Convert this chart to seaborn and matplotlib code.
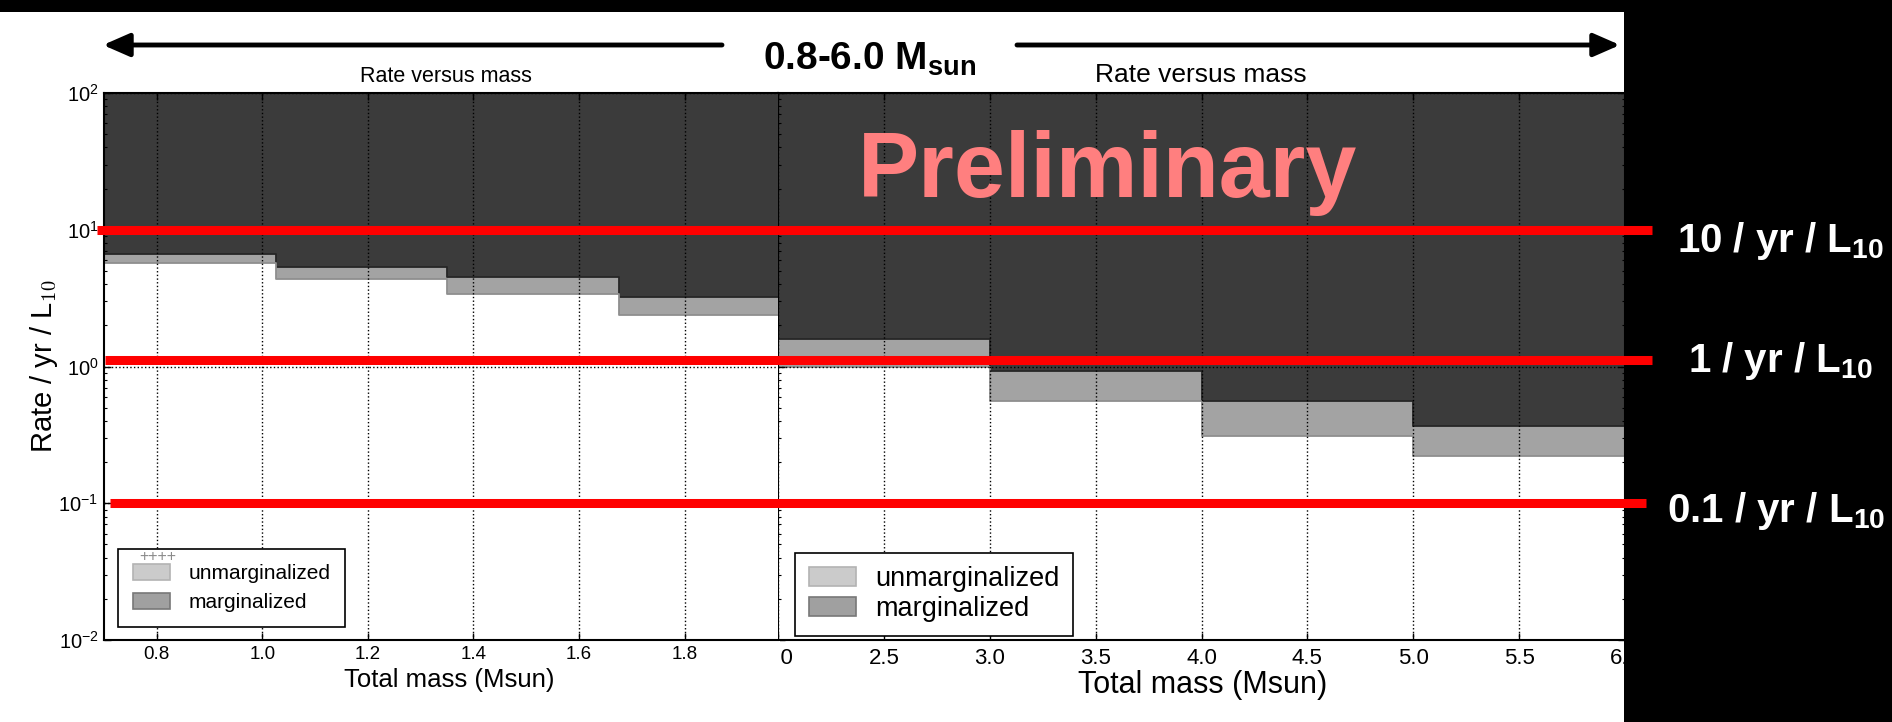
import matplotlib
matplotlib.use("Agg")
import matplotlib.pyplot as plt
import seaborn as sns
from matplotlib.patches import Patch, Rectangle, FancyArrowPatch
from matplotlib.lines import Line2D
from matplotlib.transforms import blended_transform_factory
from matplotlib.ticker import FixedLocator, FormatStrFormatter, LogLocator

# ---------------- data ----------------
left_edges = [0.7, 1.025, 1.35, 1.675, 2.0]
left_marginalized = [6.6, 5.3, 4.5, 3.2]
left_unmarginalized = [5.7, 4.4, 3.4, 2.4]

right_edges = [2.0, 3.0, 4.0, 5.0, 6.0]
right_marginalized = [1.6, 0.92, 0.56, 0.37]
right_unmarginalized = [0.99, 0.56, 0.31, 0.22]

left_xticks = [0.8, 1.0, 1.2, 1.4, 1.6, 1.8]
right_xticks = [2.0, 2.5, 3.0, 3.5, 4.0, 4.5, 5.0, 5.5, 6.0]

ref_levels = [10, 1.12, 0.1]
ref_labels = ["10 / yr / L$_{\\mathbf{10}}$", "1 / yr / L$_{\\mathbf{10}}$",
              "0.1 / yr / L$_{\\mathbf{10}}$"]
legend_labels = ["unmarginalized", "marginalized"]

# ---------------- style ----------------
sns.set_theme(style="ticks")
plt.rcParams.update({
    "font.family": ["Liberation Sans", "DejaVu Sans"],
    "mathtext.fontset": "custom",
    "mathtext.rm": "Liberation Sans",
    "mathtext.it": "Liberation Sans:italic",
    "mathtext.bf": "Liberation Sans:bold",
    "mathtext.sf": "Liberation Sans",
    "axes.edgecolor": "black",
    "xtick.color": "black",
    "ytick.color": "black",
    "text.color": "black",
    "axes.labelcolor": "black",
})

W, H = 1892, 722
def fx(px): return px / W
def fy(py): return 1 - py / H

DARK = "#3b3b3b"
BAND = "#a3a3a3"

fig = plt.figure(figsize=(W / 100, H / 100), dpi=100)
fig.patch.set_facecolor("white")

axR = fig.add_axes([fx(778), fy(640), (1625 - 778) / W, 547 / H], zorder=1)
axL = fig.add_axes([fx(104), fy(640), (777.5 - 104) / W, 547 / H], zorder=3)


def draw_panel(ax, edges, marg, unmarg):
    centers = [(a + b) / 2 for a, b in zip(edges[:-1], edges[1:])]
    ax.set_facecolor(DARK)
    sns.histplot(x=centers, weights=marg, bins=edges, element="step", fill=True,
                 color=BAND, alpha=1, edgecolor="#262626", linewidth=1.3, ax=ax)
    sns.histplot(x=centers, weights=unmarg, bins=edges, element="step", fill=True,
                 color="white", alpha=1, edgecolor="#8f8f8f", linewidth=1.3, ax=ax)
    ax.set_yscale("log")
    ax.set_ylim(1e-2, 1e2)
    ax.set_axisbelow(False)
    ax.grid(True, which="major", color="black", linestyle=":", linewidth=1.0)
    ax.yaxis.set_major_locator(LogLocator(base=10, numticks=10))
    ax.yaxis.set_minor_locator(LogLocator(base=10, subs=range(2, 10), numticks=20))
    for s in ax.spines.values():
        s.set_linewidth(1.5)
        s.set_color("black")
    ax.tick_params(which="major", direction="in", length=5, width=1)
    ax.tick_params(which="minor", direction="in", length=2.5, width=0.8)


draw_panel(axR, right_edges, right_marginalized, right_unmarginalized)
draw_panel(axL, left_edges, left_marginalized, left_unmarginalized)

# left panel axes
axL.set_xlim(0.7, 1.976)
axL.xaxis.set_major_locator(FixedLocator(left_xticks))
axL.xaxis.set_major_formatter(FormatStrFormatter("%.1f"))
axL.spines["right"].set_visible(False)
axL.tick_params(which="both", top=True, right=False, left=True, bottom=True)
axL.tick_params(axis="x", labelsize=13.5, pad=4)
axL.tick_params(axis="y", labelsize=14.5, pad=4)
axL.set_xlabel("Total mass (Msun)", fontsize=18.5)
axL.xaxis.set_label_coords((449.5 - 104) / 673.5, (640 - 680) / 547)
axL.xaxis.label.set_va("center")
axL.set_ylabel("Rate / yr / L$_{10}$", fontsize=21, math_fontfamily="cm")
axL.yaxis.set_label_coords((44 - 104) / 673.5, 0.5)
axL.yaxis.label.set_va("center")
axL.set_title("Rate versus mass", fontsize=15.5, x=(446 - 104) / 673.5,
              y=(640 - 77) / 547, va="center", pad=0)

# right panel axes
axR.set_xlim(2.0, 6.0)
axR.xaxis.set_major_locator(FixedLocator(right_xticks))
axR.xaxis.set_major_formatter(FormatStrFormatter("%.1f"))
axR.tick_params(which="both", top=True, right=True, left=True, bottom=True,
                labelleft=False)
axR.tick_params(axis="x", labelsize=16, pad=6)
axR.set_ylabel("")
axR.set_xlabel("Total mass (Msun)", fontsize=22)
axR.xaxis.set_label_coords((1203 - 778) / 847, (640 - 685) / 547)
axR.xaxis.label.set_va("center")
axR.set_title("Rate versus mass", fontsize=19, x=(1201 - 778) / 847,
              y=(640 - 75) / 547, va="center", pad=0)

# legends
def make_handles():
    return [Patch(facecolor="#cbcbcb", edgecolor="#b3b3b3", linewidth=1.2),
            Patch(facecolor="#a0a0a0", edgecolor="#787878", linewidth=1.2)]

legL = axL.legend(make_handles(), legend_labels, loc="lower left",
                  bbox_to_anchor=((118 - 104) / 673.5, (640 - 627) / 547),
                  borderaxespad=0, fancybox=False, framealpha=1, edgecolor="black",
                  fontsize=15, handlelength=1.8, handleheight=0.8,
                  labelspacing=0.5, borderpad=0.7, handletextpad=0.9)
legL.get_frame().set_linewidth(1.2)
legR = axR.legend(make_handles(), legend_labels, loc="lower left",
                  bbox_to_anchor=((795 - 778) / 847, (640 - 636) / 547),
                  borderaxespad=0, fancybox=False, framealpha=1, edgecolor="black",
                  fontsize=19.5, handlelength=1.75, handleheight=0.7,
                  labelspacing=0.15, borderpad=0.5, handletextpad=0.7)
legR.get_frame().set_linewidth(1.2)
fig.text(fx(139), fy(557), "++++", color="#8a8a8a", fontsize=11.5, va="center",
         zorder=6)

# cover pieces (composite slide)
fig.add_artist(Rectangle((0, 0), fx(780), (H - 641) / H, transform=fig.transFigure,
                         facecolor="white", edgecolor="none", zorder=2))
fig.add_artist(Rectangle((fx(1624), 0), (W - 1624) / W, 1, transform=fig.transFigure,
                         facecolor="black", edgecolor="none", zorder=4))
fig.add_artist(Rectangle((0, fy(12)), 1, 12 / H, transform=fig.transFigure,
                         facecolor="black", edgecolor="none", zorder=4))

# red reference lines (y in data units of the rate axis)
tr = blended_transform_factory(fig.transFigure, axL.transData)
line_spans = [(97, 1652), (105, 1652), (110, 1646)]
for lvl, (x0, x1) in zip(ref_levels, line_spans):
    fig.add_artist(Line2D([fx(x0), fx(x1)], [lvl, lvl], transform=tr,
                          color="#ff0000", lw=6.5, solid_capstyle="butt", zorder=5))

label_pos = [(1677, 252), (1688, 372), (1667, 522)]
for lab, (px, py) in zip(ref_labels, label_pos):
    fig.text(fx(px), fy(py), lab, color="white", fontsize=29, fontweight="bold",
             ha="left", va="baseline", zorder=6)

# arrows and range label
for start, end in [((722, 45), (103, 45)), ((1017, 45), (1620, 45))]:
    fig.add_artist(FancyArrowPatch((fx(start[0]), fy(start[1])), (fx(end[0]), fy(end[1])),
                                   transform=fig.transFigure,
                                   arrowstyle="-|>,head_length=0.8,head_width=0.35",
                                   mutation_scale=20, lw=3.5, color="black",
                                   shrinkA=0, shrinkB=0, zorder=6))
fig.text(fx(763), fy(70), "0.8-6.0 M$_{\\mathbf{sun}}$", fontsize=28,
         fontweight="bold", ha="left", va="baseline", zorder=6)

fig.text(fx(1108), fy(197), "Preliminary", fontsize=66, fontweight="bold",
         color="#ff7f7f", ha="center", va="baseline", zorder=6)

fig.savefig("out.png", dpi=100)
